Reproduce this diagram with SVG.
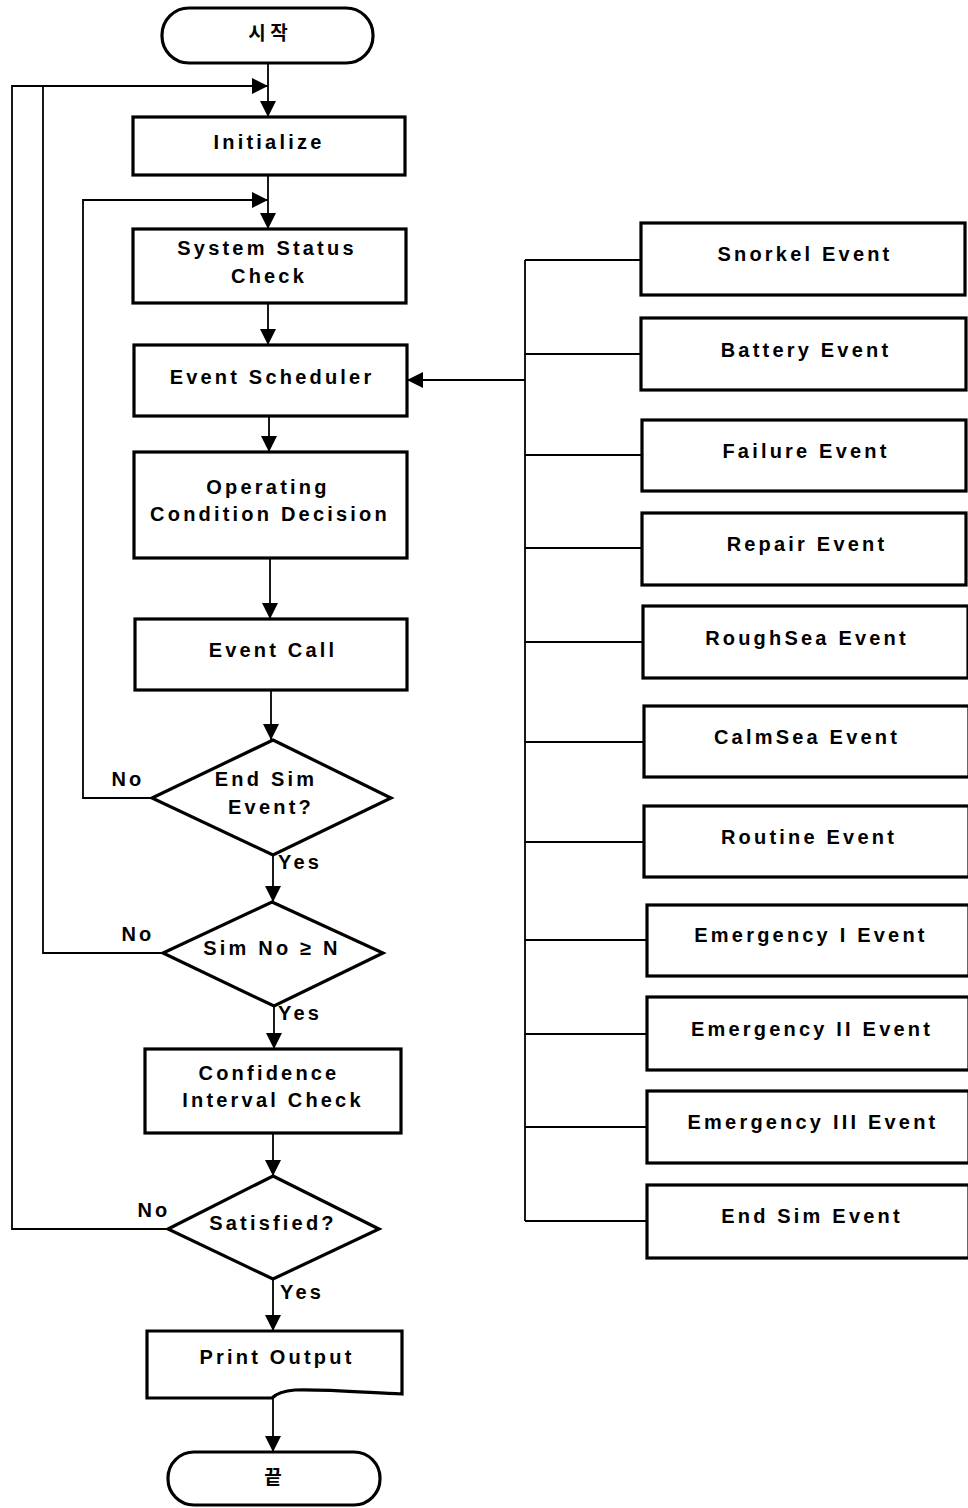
<svg xmlns="http://www.w3.org/2000/svg" width="968" height="1508" viewBox="0 0 968 1508">
<style>
.box{fill:#fff;stroke:#000;stroke-width:3.2}
.ln{fill:none;stroke:#000;stroke-width:1.8}
.t{font-family:"Liberation Sans",Arial,sans-serif;font-size:20px;font-weight:bold;letter-spacing:3.2px;text-anchor:middle;fill:#000}
.k{font-family:"Noto Sans CJK KR","Liberation Sans",sans-serif;font-size:19px;font-weight:bold;text-anchor:middle;fill:#000}
</style>
<defs>
<marker id="ah" viewBox="0 0 10 10" refX="10" refY="5" markerWidth="16" markerHeight="16" markerUnits="userSpaceOnUse" orient="auto">
<path d="M0,0 L10,5 L0,10 z" fill="#000"/>
</marker>
</defs>
<rect width="968" height="1508" fill="#fff"/>
<g id="connectors">
<path class="ln" d="M268,63 V117" marker-end="url(#ah)"/>
<path class="ln" d="M168,1229 H12 V86 H268" marker-end="url(#ah)"/>
<path class="ln" d="M163,953 H43 V86"/>
<path class="ln" d="M152,798 H83 V200 H268" marker-end="url(#ah)"/>
<path class="ln" d="M268,175 V229" marker-end="url(#ah)"/>
<path class="ln" d="M268,303 V345" marker-end="url(#ah)"/>
<path class="ln" d="M269,416 V452" marker-end="url(#ah)"/>
<path class="ln" d="M270,558 V619" marker-end="url(#ah)"/>
<path class="ln" d="M271,690 V740" marker-end="url(#ah)"/>
<path class="ln" d="M273,855 V902" marker-end="url(#ah)"/>
<path class="ln" d="M274,1006 V1049" marker-end="url(#ah)"/>
<path class="ln" d="M273,1133 V1176" marker-end="url(#ah)"/>
<path class="ln" d="M273,1279 V1331" marker-end="url(#ah)"/>
<path class="ln" d="M273,1394 V1452" marker-end="url(#ah)"/>
<path class="ln" d="M525,380 H407" marker-end="url(#ah)"/>
<path class="ln" d="M525,260 V1221"/>
<path class="ln" d="M525,260 H641 M525,354 H641 M525,455 H642 M525,548 H642 M525,642 H643 M525,742 H644 M525,842 H644 M525,940 H647 M525,1034 H647 M525,1127 H647 M525,1221 H647"/>
</g>
<g id="start"><rect class="box" x="162" y="8" width="211" height="55" rx="27"/><text class="k" x="268" y="40">시 작</text></g>
<g id="initialize"><rect class="box" x="133" y="117" width="272" height="58"/><text class="t" x="269" y="149">Initialize</text></g>
<g id="system-status"><rect class="box" x="133" y="229" width="273" height="74"/><text class="t" x="267" y="255">System Status</text><text class="t" x="269" y="283">Check</text></g>
<g id="event-scheduler"><rect class="box" x="134" y="345" width="273" height="71"/><text class="t" x="272" y="384">Event Scheduler</text></g>
<g id="operating"><rect class="box" x="134" y="452" width="273" height="106"/><text class="t" x="268" y="494">Operating</text><text class="t" x="270" y="521">Condition Decision</text></g>
<g id="event-call"><rect class="box" x="135" y="619" width="272" height="71"/><text class="t" x="273" y="657">Event Call</text></g>
<g id="end-sim-decision"><polygon class="box" points="273,740 391,798 273,855 152,798"/><text class="t" x="266" y="786">End Sim</text><text class="t" x="271" y="814">Event?</text></g>
<g id="simno-decision"><polygon class="box" points="272,902 383,953 274,1006 163,953"/><text class="t" x="272" y="955">Sim No ≥ N</text></g>
<g id="confidence"><rect class="box" x="145" y="1049" width="256" height="84"/><text class="t" x="269" y="1080">Confidence</text><text class="t" x="273" y="1107">Interval Check</text></g>
<g id="satisfied"><polygon class="box" points="273,1176 379,1229 273,1279 168,1229"/><text class="t" x="273" y="1230">Satisfied?</text></g>
<g id="print-output"><path class="box" d="M147,1331 H402 V1394 C360,1392 320,1389 295,1390 C282,1391 276,1394 272,1398 L147,1398 Z"/><text class="t" x="277" y="1364">Print Output</text></g>
<g id="end"><rect class="box" x="168" y="1452" width="212" height="53" rx="26"/><text class="k" x="273" y="1484">끝</text></g>
<g id="labels">
<text class="t" x="128" y="786">No</text>
<text class="t" x="300" y="869">Yes</text>
<text class="t" x="138" y="941">No</text>
<text class="t" x="300" y="1020">Yes</text>
<text class="t" x="154" y="1217">No</text>
<text class="t" x="302" y="1299">Yes</text>
</g>
<g id="snorkel"><rect class="box" x="641" y="223" width="324" height="72"/><text class="t" x="805" y="261">Snorkel Event</text></g>
<g id="battery"><rect class="box" x="641" y="318" width="325" height="72"/><text class="t" x="806" y="357">Battery Event</text></g>
<g id="failure"><rect class="box" x="642" y="420" width="324" height="71"/><text class="t" x="806" y="458">Failure Event</text></g>
<g id="repair"><rect class="box" x="642" y="513" width="324" height="72"/><text class="t" x="807" y="551">Repair Event</text></g>
<g id="roughsea"><rect class="box" x="643" y="606" width="325" height="72"/><text class="t" x="807" y="645">RoughSea Event</text></g>
<g id="calmsea"><rect class="box" x="644" y="706" width="325" height="71"/><text class="t" x="807" y="744">CalmSea Event</text></g>
<g id="routine"><rect class="box" x="644" y="806" width="325" height="71"/><text class="t" x="809" y="844">Routine Event</text></g>
<g id="emergency1"><rect class="box" x="647" y="905" width="322" height="71"/><text class="t" x="811" y="942">Emergency I Event</text></g>
<g id="emergency2"><rect class="box" x="647" y="997" width="322" height="73"/><text class="t" x="812" y="1036">Emergency II Event</text></g>
<g id="emergency3"><rect class="box" x="647" y="1091" width="322" height="72"/><text class="t" x="813" y="1129">Emergency III Event</text></g>
<g id="endsim-event"><rect class="box" x="647" y="1185" width="322" height="73"/><text class="t" x="812" y="1223">End Sim Event</text></g>
</svg>
